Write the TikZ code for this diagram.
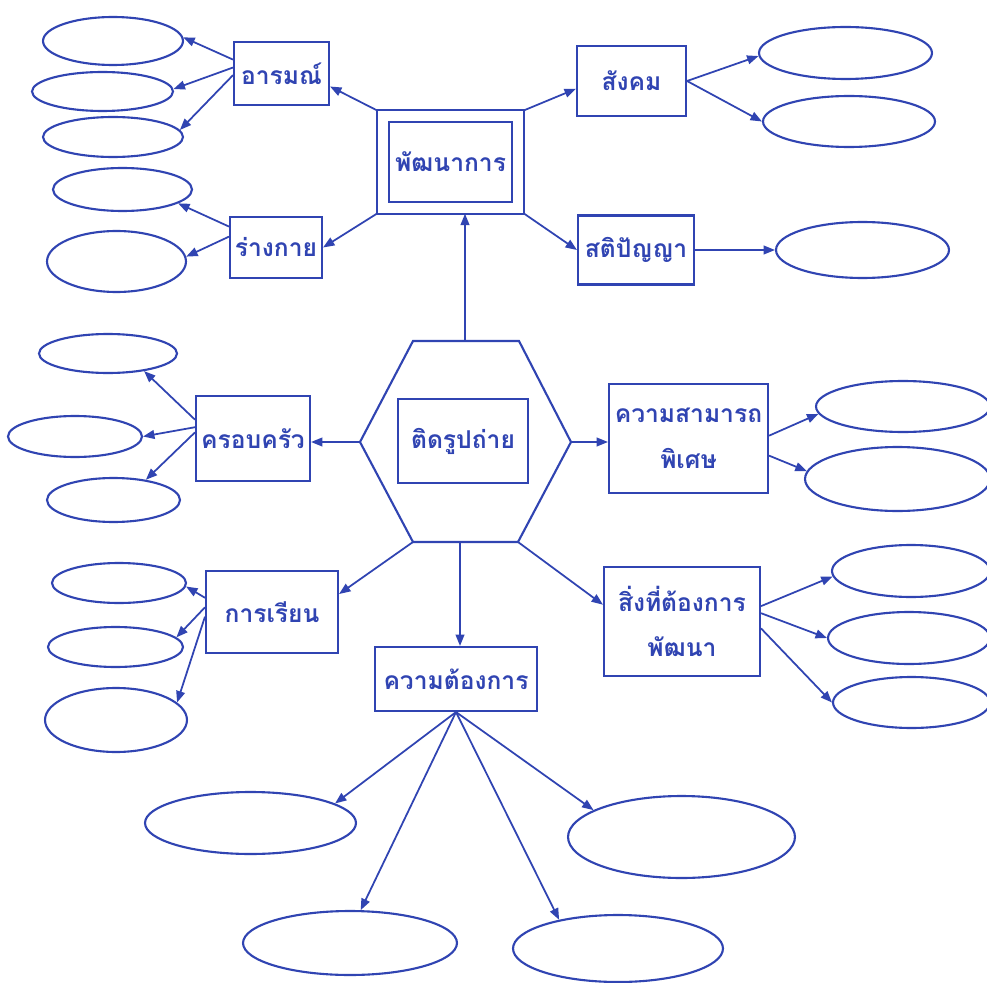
\documentclass[tikz,border=0pt]{standalone}
\usepackage{fontspec}
\newfontfamily\thaifont[Script=Thai]{Loma}
\usetikzlibrary{arrows.meta,shapes.geometric}
\definecolor{ink}{RGB}{48,68,178}
\tikzset{
  box/.style ={draw=ink,line width=1.2pt,text=ink,align=center,inner sep=0pt,
               font=\thaifont\bfseries\fontsize{14}{26}\selectfont},
  oval/.style={draw=ink,line width=1.2pt,ellipse,inner sep=0pt},
  hexa/.style={draw=ink,line width=1.2pt,line join=miter},
  ar/.style  ={draw=ink,line width=1pt,-{Triangle[length=6.5pt,width=5pt]}},
}

\begin{document}
\begin{tikzpicture}[x=0.02cm,y=-0.02cm]
  \path[use as bounding box,fill=white] (0,0) rectangle (987,983);
  % centre hexagon
  \draw[hexa] (413,341) coordinate (hxtl) -- (519,341) coordinate (hxtr)
    -- (571,442) coordinate (hxr) -- (518,542) coordinate (hxbr)
    -- (413,542) coordinate (hxbl) -- (360,442) coordinate (hxl) -- cycle;
  \coordinate (hxt) at (465,341);
  \coordinate (hxb) at (460,542);
  \node[box,minimum width=2.6cm,minimum height=1.68cm] (photo) at (463,441) {ติดรูปถ่าย};

  % boxes
  \node[box,double,double distance=5.6pt,outer sep=0.12cm,
        minimum width=2.71cm,minimum height=1.83cm] (dev) at (450.5,162) {พัฒนาการ};
  \node[box,minimum width=1.9cm,minimum height=1.26cm] (emo) at (281.5,73.5) {อารมณ์};
  \node[box,minimum width=1.84cm,minimum height=1.22cm] (body) at (276,247.5) {ร่างกาย};
  \node[box,minimum width=2.18cm,minimum height=1.4cm] (soc) at (631.5,81) {สังคม};
  \node[box,minimum width=2.32cm,minimum height=1.38cm] (intel) at (636,250) {สติปัญญา};
  \node[box,minimum width=2.28cm,minimum height=1.7cm] (fam) at (253,438.5) {ครอบครัว};
  \node[box,minimum width=2.64cm,minimum height=1.64cm] (learn) at (272,612) {การเรียน};
  \node[box,minimum width=3.18cm,minimum height=2.18cm] (abil) at (688.5,438.5) {ความสามารถ\\พิเศษ};
  \node[box,minimum width=3.12cm,minimum height=2.18cm] (need) at (682,621.5) {สิ่งที่ต้องการ\\พัฒนา};
  \node[box,minimum width=3.24cm,minimum height=1.28cm] (want) at (456,679) {ความต้องการ};

  % empty ovals
  \foreach \n/\x/\y/\w/\h in {
      e1/113/41/2.8/0.96, e2/102.5/91.5/2.82/0.78, e3/113/137/2.8/0.8,
      e4/122.5/189.5/2.78/0.86, e5/116.5/261.5/2.78/1.22,
      e6/845.5/53/3.46/1.04, e7/849/121.5/3.44/1.02, e8/862.5/250/3.46/1.12,
      e9/108/353.5/2.76/0.78, e10/75/436.5/2.68/0.82, e11/113.5/500/2.66/0.88,
      e12/119/583/2.68/0.8, e13/115.5/647/2.7/0.8, e14/116/720/2.84/1.28,
      e15/903/406.5/3.48/1.02, e16/897.5/479/3.7/1.28,
      e17/911/571/3.16/1.04, e18/909/638/3.24/1.04, e19/911.5/702.5/3.14/1.02,
      e20/250.5/823/4.22/1.24, e21/350/943/4.28/1.28,
      e22/681.5/837/4.54/1.64, e23/618/948.5/4.2/1.34}
    \node[oval,minimum width=\w cm,minimum height=\h cm] (\n) at (\x,\y) {};

  % from the hexagon
  \draw[ar] (hxt) -- (hxt |- dev.south);
  \draw[ar] (hxb) -- (hxb |- want.north);
  \draw[ar] (hxl) -- (hxl -| fam.east);
  \draw[ar] (hxr) -- (hxr -| abil.west);
  \draw[ar] (hxbl) -- (learn.15);
  \draw[ar] (hxbr) -- (need.168);

  % development
  \draw[ar] (dev.north west) -- (emo.-15);
  \draw[ar] (dev.south west) -- (body.east);
  \draw[ar] (dev.north east) -- (soc.188);
  \draw[ar] (dev.south east) -- (intel.west);

  \draw[ar] (emo.164) -- (e1.3);
  \draw[ar] (emo.173) -- (e2.2);
  \draw[ar] (emo.182) -- (e3.6);
  \draw[ar] (body.156) -- (e4.-14);
  \draw[ar] (body.167) -- (e5.4);
  \draw[ar] (soc.east) -- (e6.182);
  \draw[ar] (soc.east) -- (e7.west);
  \draw[ar] (intel.east) -- (e8.west);

  % left side
  \draw[ar] (fam.162) -- (e9.-26);
  \draw[ar] (fam.169) -- (e10.east);
  \draw[ar] (fam.174) -- (e11.32);
  \draw[ar] (learn.168) -- (e12.-3);
  \draw[ar] (learn.176) -- (e13.9);
  \draw[ar] (learn.184) -- (e14.16);

  % right side
  \draw[ar] (abil.2) -- (e15.185);
  \draw[ar] (abil.-12) -- (e16.175);
  \draw[ar] (need.11) -- (e17.184);
  \draw[ar] (need.6) -- (e18.west);
  \draw[ar] (need.-5) -- (e19.west);

  % bottom
  \draw[ar] (want.south) -- (e20.13);
  \draw[ar] (want.south) -- (e21.72);
  \draw[ar] (want.south) -- (e22.163);
  \draw[ar] (want.south) -- (e23.154);
\end{tikzpicture}
\end{document}
